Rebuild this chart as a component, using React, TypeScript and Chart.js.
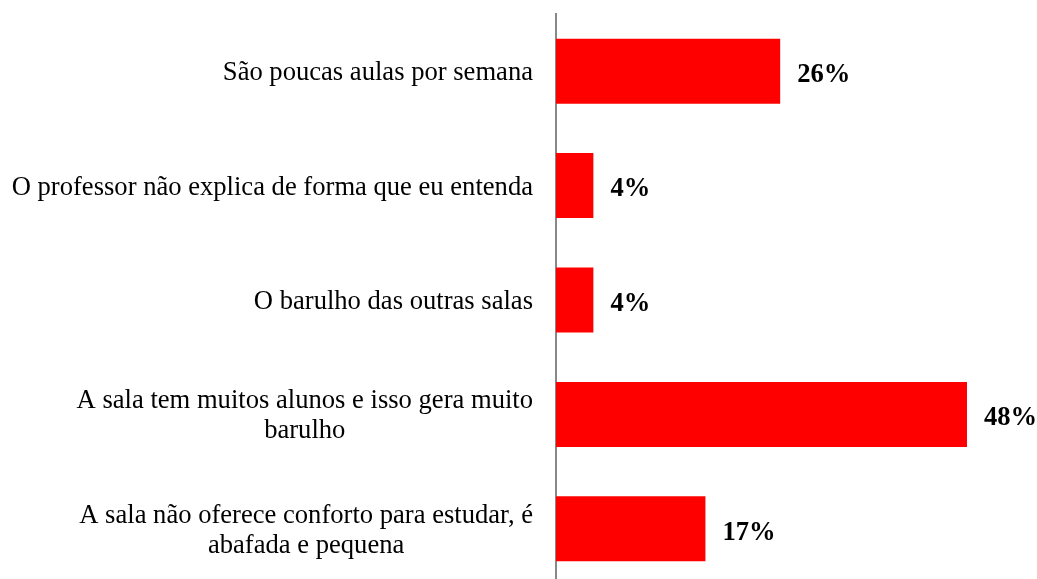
import React, { useEffect, useRef } from "react";
import { Chart, registerables } from "chart.js";

Chart.register(...registerables);

const categories: string[][] = [
  ["São poucas aulas por semana"],
  ["O professor não explica de forma que eu entenda"],
  ["O barulho das outras salas"],
  ["A sala tem muitos alunos e isso gera muito", "barulho"],
  ["A sala não oferece conforto para estudar, é", "abafada e pequena"],
];
const values: number[] = [26.09, 4.35, 4.35, 47.83, 17.39];
const valueLabels: string[] = values.map((v) => `${Math.round(v)}%`);

const FONT = "'Liberation Serif', 'Times New Roman', serif";

const labelPlugin = {
  id: "customLabels",
  afterDatasetsDraw(chart: any) {
    const ctx = chart.ctx;
    const area = chart.chartArea;
    const yScale = chart.scales.y;
    ctx.save();
    // category labels
    ctx.fillStyle = "#000";
    ctx.font = `26.6px ${FONT}`;
    ctx.textBaseline = "middle";
    ctx.textAlign = "center";
    const lineH = 30;
    const rightEdge = area.left - 23;
    categories.forEach((lines, i) => {
      const cy = yScale.getPixelForValue(i) + 2;
      const maxW = Math.max(...lines.map((l) => ctx.measureText(l).width));
      const cx = rightEdge - maxW / 2;
      const y0 = cy - ((lines.length - 1) * lineH) / 2;
      lines.forEach((l, j) => ctx.fillText(l, cx, y0 + j * lineH));
    });
    // value labels
    ctx.font = `bold 26.6px ${FONT}`;
    ctx.textAlign = "left";
    const meta = chart.getDatasetMeta(0);
    meta.data.forEach((el: any, i: number) => {
      ctx.fillText(valueLabels[i], el.x + 17, el.y + 4);
    });
    ctx.restore();
  },
};

export default function App() {
  const ref = useRef<HTMLCanvasElement>(null);
  useEffect(() => {
    if (!ref.current) return;
    const chart = new Chart(ref.current, {
      type: "bar",
      data: {
        labels: categories.map((c) => c.join(" ")),
        datasets: [
          {
            data: values,
            backgroundColor: "#FF0000",
            borderWidth: 0,
            categoryPercentage: 1,
            barPercentage: 0.568,
          },
        ],
      },
      options: {
        indexAxis: "y",
        responsive: false,
        animation: false,
        layout: { padding: { left: 556, right: 8.4, top: 14, bottom: 0 } },
        plugins: { legend: { display: false }, tooltip: { enabled: false } },
        scales: {
          x: { display: false, min: 0, max: 55 },
          y: {
            ticks: { display: false },
            grid: { display: false, drawTicks: false },
            border: { display: true, color: "#888888", width: 2 },
          },
        },
      },
      plugins: [labelPlugin],
    });
    return () => chart.destroy();
  }, []);
  return (
    <div style={{ position: "fixed", left: 0, top: 0, width: 1037, height: 579, overflow: "hidden", background: "#fff" }}>
      <canvas ref={ref} width={1037} height={586} style={{ width: 1037, height: 586, display: "block" }} />
    </div>
  );
}
